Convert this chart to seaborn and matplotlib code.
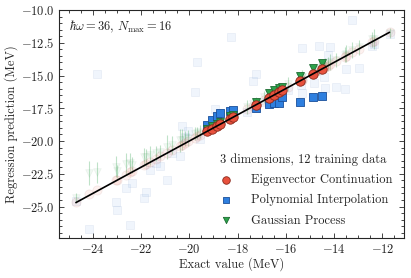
import numpy as np
import pandas as pd
import matplotlib
matplotlib.use("Agg")
import matplotlib.pyplot as plt
import seaborn as sns

# ---- data ----
# training points (opaque markers)
exact_train = [-19.28, -19.07, -18.86, -18.73, -18.32, -18.20, -17.25,
               -16.70, -16.47, -16.30, -16.14, -15.40, -14.89, -14.52]
ec_train = [-19.26, -19.05, -18.85, -18.72, -18.30, -18.19, -17.24,
            -16.69, -16.45, -16.29, -16.13, -15.39, -14.88, -14.51]
pi_train = [-18.75, -18.38, -18.10, -17.87, -17.72, -17.60, -17.49,
            -17.19, -17.11, -17.07, -16.65, -16.99, -16.61, -16.55]
gp_train = [-19.08, -18.88, -18.68, -18.52, -18.12, -18.00, -17.00,
            -16.35, -16.10, -15.98, -15.85, -15.05, -14.42, -14.05]
gp_train_err = [0.05, 0.05, 0.05, 0.05, 0.05, 0.05, 0.06,
                0.06, 0.06, 0.06, 0.06, 0.07, 0.07, 0.07]

# out-of-sample points (faded markers)
exact_test = [-24.70, -24.15, -23.81, -23.05, -23.01, -22.64, -22.46, -22.37,
              -21.89, -21.79, -21.61, -21.40, -21.20, -20.93, -20.70, -20.38,
              -20.31, -20.17, -20.05, -19.76, -19.67, -19.55, -18.94, -18.29,
              -17.60, -17.36, -17.25, -16.90, -15.90, -15.37, -15.32, -15.33,
              -14.82, -14.62, -14.41, -14.38, -14.27, -14.16, -13.93, -13.56,
              -13.52, -13.25, -12.97, -12.42, -12.35, -11.70]
ec_test = [-24.62, -24.05, -23.74, -22.98, -22.95, -22.58, -22.40, -22.31,
           -21.84, -21.74, -21.57, -21.36, -21.16, -20.90, -20.67, -20.35,
           -20.28, -20.14, -20.02, -19.74, -19.65, -19.53, -18.93, -18.28,
           -17.59, -17.35, -17.24, -16.89, -15.89, -15.36, -15.31, -15.32,
           -14.81, -14.61, -14.40, -14.37, -14.26, -14.15, -13.92, -13.55,
           -13.51, -13.24, -12.96, -12.41, -12.34, -11.69]
pi_test = [-24.60, -26.72, -14.88, -24.69, -25.24, -23.59, -26.39, -23.20,
           -24.35, -23.90, -22.20, -21.65, -21.94, -22.96, -20.90, -21.18,
           -18.84, -19.66, -19.27, -16.27, -13.94, -19.85, -17.55, -12.08,
           -17.80, -15.41, -14.88, -17.00, -16.10, -15.72, -16.35, -12.87,
           -15.59, -12.72, -15.13, -15.97, -13.43, -12.80, -15.89, -16.02,
           -14.50, -10.76, -14.40, -12.72, -12.60, -11.80]
gp_test = [-24.35, -22.45, -22.40, -21.95, -22.30, -21.75, -21.70, -21.85,
           -21.20, -21.25, -21.10, -20.95, -20.85, -20.45, -20.30, -19.95,
           -19.90, -19.80, -19.75, -19.45, -19.40, -19.30, -18.70, -18.05,
           -17.40, -17.15, -17.05, -16.65, -15.65, -15.20, -15.10, -15.15,
           -14.60, -14.40, -14.30, -14.20, -14.10, -13.95, -13.80, -13.40,
           -13.35, -13.05, -12.85, -12.25, -12.20, -11.75]
gp_test_err = [0.35, 0.90, 0.80, 0.80, 0.50, 0.80, 0.75, 0.60,
               0.70, 0.65, 0.70, 0.60, 0.55, 0.90, 0.70, 0.90,
               0.80, 0.60, 0.60, 0.50, 0.45, 0.50, 0.45, 0.40,
               0.50, 0.40, 0.40, 0.45, 0.50, 0.45, 0.50, 0.45,
               0.50, 0.55, 0.50, 0.55, 0.50, 0.60, 0.55, 0.60,
               0.65, 0.60, 0.55, 0.55, 0.75, 0.40]

# ---- style ----
RED = "#e8513d"
BLUE = "#2e7fdf"
GREEN = "#2ca24b"
FS = 9

sns.set_style("ticks")
plt.rcParams["font.family"] = ["cmr10", "DejaVu Serif"]
plt.rcParams["mathtext.fontset"] = "cm"
plt.rcParams["axes.formatter.use_mathtext"] = True
plt.rcParams["font.size"] = FS

train = pd.DataFrame({"exact": exact_train, "ec": ec_train,
                      "pi": pi_train, "gp": gp_train})
test = pd.DataFrame({"exact": exact_test, "ec": ec_test,
                     "pi": pi_test, "gp": gp_test})

fig, ax = plt.subplots(figsize=(4.11, 2.78), dpi=100)
fig.subplots_adjust(left=0.1436, right=0.983, bottom=0.144, top=0.964)

# faded out-of-sample predictions
sns.scatterplot(data=test, x="exact", y="pi", ax=ax, marker="s", s=36,
                color=BLUE, edgecolor="#1a4f9a", linewidth=0.6, alpha=0.07,
                zorder=1, legend=False)
ax.errorbar(exact_test, gp_test, yerr=gp_test_err, fmt="none",
            ecolor=GREEN, elinewidth=0.8, alpha=0.3, zorder=1)
sns.scatterplot(data=test, x="exact", y="gp", ax=ax, marker="v", s=30,
                color=GREEN, edgecolor="#1b6b30", linewidth=0.6, alpha=0.06,
                zorder=1, legend=False)
sns.scatterplot(data=test, x="exact", y="ec", ax=ax, marker="o", s=44,
                color=RED, edgecolor="#8a2a1c", linewidth=0.6, alpha=0.08,
                zorder=1, legend=False)

# training predictions
sns.scatterplot(data=train, x="exact", y="pi", ax=ax, marker="s", s=36,
                color=BLUE, edgecolor="#1a4f9a", linewidth=0.6,
                zorder=3, label="Polynomial Interpolation")
ax.errorbar(exact_train, gp_train, yerr=gp_train_err, fmt="none",
            ecolor=GREEN, elinewidth=0.8, zorder=3)
sns.scatterplot(data=train, x="exact", y="gp", ax=ax, marker="v", s=32,
                color=GREEN, edgecolor="#1b6b30", linewidth=0.6,
                zorder=3, label="Gaussian Process")
sns.scatterplot(data=train, x="exact", y="ec", ax=ax, marker="o", s=46,
                color=RED, edgecolor="#8a2a1c", linewidth=0.6,
                zorder=4, label="Eigenvector Continuation")

# y = x reference
all_exact = exact_test + exact_train
diag = [min(all_exact), max(all_exact)]
ax.plot(diag, diag, color="black", lw=1.2, zorder=5)

ax.set_xlim(-25.4, -11.1)
ax.set_ylim(-27.4, -10.0)
ax.set_xticks([-24, -22, -20, -18, -16, -14, -12])
ax.set_yticks([-25.0, -22.5, -20.0, -17.5, -15.0, -12.5, -10.0])
ax.yaxis.set_major_formatter(plt.FuncFormatter(lambda v, p: f"${v:.1f}$"))
ax.xaxis.set_major_formatter(plt.FuncFormatter(lambda v, p: f"${v:.0f}$"))
ax.xaxis.set_minor_locator(plt.MultipleLocator(0.5))
ax.yaxis.set_minor_locator(plt.MultipleLocator(0.5))
ax.tick_params(which="both", direction="in", top=True, right=True,
               labelsize=FS, width=0.6)
ax.tick_params(which="major", length=3.5)
ax.tick_params(which="minor", length=2)
for sp in ax.spines.values():
    sp.set_linewidth(0.8)

ax.set_xlabel("Exact value (MeV)", fontsize=FS, labelpad=1)
ax.set_ylabel("Regression prediction (MeV)", fontsize=FS, labelpad=2)
ax.text(0.03, 0.925, r"$\hbar\omega = 36,\, N_\mathrm{max} = 16$",
        transform=ax.transAxes, fontsize=FS, va="center", ha="left")

handles, labels = ax.get_legend_handles_labels()
order = [labels.index(n) for n in ["Eigenvector Continuation",
                                   "Polynomial Interpolation",
                                   "Gaussian Process"]]
ax.legend([handles[i] for i in order], [labels[i] for i in order],
          title="3 dimensions, 12 training data", title_fontsize=FS,
          fontsize=FS, frameon=False, loc="lower right",
          bbox_to_anchor=(1.0, 0.0), markerscale=0.8,
          handletextpad=1.0, labelspacing=0.65)

fig.savefig("out.png", dpi=100)
